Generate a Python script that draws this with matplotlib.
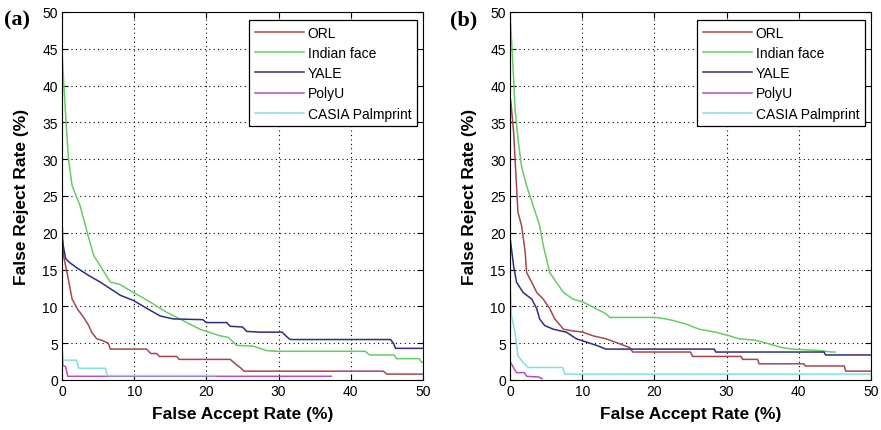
import matplotlib
matplotlib.use("Agg")
import matplotlib.pyplot as plt

names = ["ORL", "Indian face", "YALE", "PolyU", "CASIA Palmprint"]
colors = ["#a8464e", "#66cc66", "#2e2e80", "#b050b8", "#80e0e0"]

# ---- panel (a) ----
a_orl_x = [0, 0.2, 0.7, 1.4, 2.1, 3.0, 3.7, 4.1, 4.8, 5.5, 6.4, 6.7, 11.7, 12.3, 13.1, 13.5, 15.9, 16.2, 23.3, 24.0, 24.8, 25.2, 44.5, 45.0, 50]
a_orl_y = [21.8, 16.9, 14.6, 11.0, 9.7, 8.5, 7.4, 6.5, 5.6, 5.4, 5.0, 4.2, 4.2, 3.6, 3.6, 3.2, 3.2, 2.8, 2.8, 2.2, 1.6, 1.2, 1.2, 0.8, 0.8]
a_ind_x = [0, 0.5, 0.9, 1.4, 2.5, 3.5, 4.4, 5.3, 6.7, 8.0, 9.0, 9.9, 12.2, 14.5, 17.3, 19.1, 21.9, 23.0, 24.2, 26.5, 28.3, 29.7, 42.0, 42.6, 46.0, 46.3, 49.5, 49.8, 50]
a_ind_y = [44.5, 36.0, 30.0, 26.4, 23.7, 20.0, 16.9, 15.5, 13.3, 13.0, 12.4, 11.9, 10.6, 9.2, 7.8, 6.9, 6.0, 5.8, 4.7, 4.6, 4.0, 3.9, 3.9, 3.4, 3.4, 2.9, 2.9, 2.4, 2.4]
a_yal_x = [0, 0.5, 1.0, 2.1, 3.7, 5.3, 6.7, 8.1, 9.9, 11.8, 13.6, 15.4, 19.5, 20.0, 22.8, 23.3, 25.0, 25.6, 27.4, 30.5, 31.1, 31.6, 45.5, 45.9, 46.2, 50]
a_yal_y = [19.2, 16.5, 16.0, 15.2, 14.2, 13.3, 12.4, 11.5, 10.8, 9.7, 8.7, 8.3, 8.2, 7.8, 7.8, 7.3, 7.2, 6.6, 6.5, 6.5, 5.9, 5.5, 5.5, 5.0, 4.3, 4.3]
a_pol_x = [0, 0.1, 0.5, 0.8, 37.3]
a_pol_y = [5.5, 2.0, 1.8, 0.5, 0.5]
a_cas_x = [0, 2.0, 2.3, 6.0, 6.3, 21.2]
a_cas_y = [2.7, 2.7, 1.6, 1.6, 0.6, 0.6]

# ---- panel (b) ----
b_orl_x = [0.1, 0.5, 0.7, 1.1, 1.6, 2.1, 2.3, 3.0, 3.7, 4.6, 5.5, 6.2, 7.4, 8.5, 10.1, 11.5, 13.3, 14.7, 16.6, 17.0, 25.0, 25.3, 32.0, 32.2, 34.3, 34.5, 40.7, 40.9, 46.3, 46.5, 50]
b_orl_y = [38.0, 33.7, 30.0, 22.8, 21.0, 17.4, 14.6, 13.3, 11.9, 11.0, 9.7, 8.3, 6.9, 6.7, 6.5, 6.0, 5.6, 5.1, 4.4, 3.8, 3.8, 3.2, 3.2, 2.8, 2.8, 2.2, 2.2, 1.9, 1.9, 1.2, 1.2]
b_ind_x = [0, 0.5, 0.7, 1.1, 1.6, 2.3, 3.2, 4.1, 4.6, 5.5, 6.4, 7.4, 8.7, 10.1, 11.5, 13.3, 13.8, 20.2, 21.6, 22.5, 24.4, 26.2, 28.5, 30.4, 31.7, 34.0, 35.9, 37.7, 39.1, 42.8, 44.6, 45.0]
b_ind_y = [50.0, 41.0, 36.8, 32.8, 29.0, 26.4, 23.7, 21.0, 18.3, 14.6, 13.3, 11.9, 11.0, 10.6, 9.9, 9.0, 8.5, 8.5, 8.3, 8.1, 7.6, 6.9, 6.5, 6.0, 5.6, 5.4, 4.9, 4.4, 4.2, 4.0, 3.8, 3.8]
b_yal_x = [0, 0.5, 0.9, 1.8, 3.0, 3.7, 4.1, 4.8, 6.0, 7.8, 9.2, 10.1, 12.0, 13.3, 28.3, 28.5, 43.5, 43.7, 50]
b_yal_y = [19.4, 15.5, 13.3, 11.9, 11.0, 9.7, 8.3, 7.4, 6.9, 6.5, 5.6, 5.3, 4.7, 4.2, 4.2, 3.8, 3.8, 3.4, 3.4]
b_pol_x = [0, 0.9, 2.0, 2.3, 4.0, 4.4]
b_pol_y = [2.5, 1.0, 1.0, 0.5, 0.4, 0.2]
b_cas_x = [0, 0.2, 0.7, 1.1, 1.8, 2.5, 7.3, 7.6, 50]
b_cas_y = [13.5, 8.7, 6.5, 3.3, 2.4, 1.7, 1.7, 0.8, 0.8]

panels = [
    ("(a)", [(a_orl_x, a_orl_y), (a_ind_x, a_ind_y), (a_yal_x, a_yal_y), (a_pol_x, a_pol_y), (a_cas_x, a_cas_y)]),
    ("(b)", [(b_orl_x, b_orl_y), (b_ind_x, b_ind_y), (b_yal_x, b_yal_y), (b_pol_x, b_pol_y), (b_cas_x, b_cas_y)]),
]

plt.rcParams['font.family'] = ['Liberation Sans', 'DejaVu Sans']

fig = plt.figure(figsize=(8.81, 4.31), dpi=100)
lefts = [62 / 881, 510 / 881]
label_x = [4 / 881, 450 / 881]
for i, (tag, series) in enumerate(panels):
    ax = fig.add_axes([lefts[i], 1 - 381 / 431, 361 / 881, 368 / 431])
    for (xs, ys), name, c in zip(series, names, colors):
        ax.plot(xs, ys, color=c, lw=1.1, label=name)
    ax.set_xlim(0, 50)
    ax.set_ylim(0, 50)
    ax.set_xticks(range(0, 51, 10))
    ax.set_yticks(range(0, 51, 5))
    ax.grid(True, linestyle=(0, (1, 3)), color='black', lw=0.8)
    ax.tick_params(direction='in', top=True, right=True, labelsize=10, length=4, pad=3)
    for s in ax.spines.values():
        s.set_linewidth(0.8)
    ax.set_xlabel("False Accept Rate (%)", fontsize=12.5, fontweight='bold', labelpad=6)
    ax.set_ylabel("False Reject Rate (%)", fontsize=12.5, fontweight='bold')
    ax.yaxis.set_label_coords(-33 / 361, 0.5)
    leg = ax.legend(loc='upper right', bbox_to_anchor=(0.983, 0.978), borderaxespad=0,
                    fontsize=10, fancybox=False, edgecolor='black', framealpha=1,
                    handlelength=3.5, handletextpad=0.3, borderpad=0.4, labelspacing=0.45)
    leg.get_frame().set_linewidth(0.9)
    fig.text(label_x[i], 1 - 20 / 431, tag, fontsize=16, fontweight='bold',
             family='Liberation Serif', va='center', ha='left')

fig.savefig("out.png", dpi=100)
